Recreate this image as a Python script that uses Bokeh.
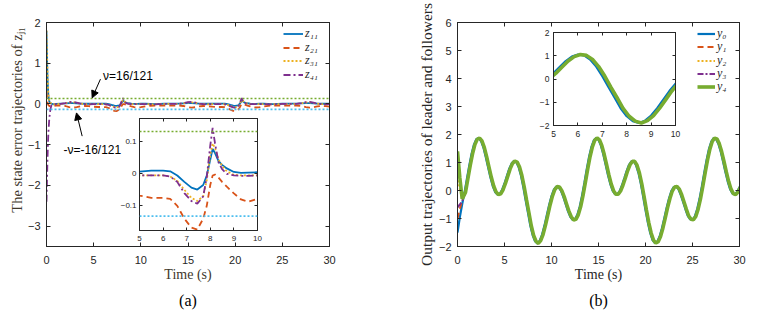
from bokeh.plotting import figure
from bokeh.models import (LinearAxis, Range1d, Legend, LegendItem, Arrow, NormalHead,
                          Label, FixedTicker, Span)
from bokeh.layouts import row
from bokeh.embed import file_html
from bokeh.resources import INLINE

# ---------------- data ----------------
NU = 16 / 121

t_z = [0, 0.05, 0.1, 0.15, 0.2, 0.3, 0.4, 0.5, 0.6, 0.8, 1.0,
       1.5, 2.0, 2.4, 2.8, 3.2, 3.6, 4.0, 4.5, 5.0, 5.5, 6.0,
       6.3, 6.6, 6.9, 7.2, 7.45, 7.7, 7.85, 8.0, 8.1, 8.2, 8.35, 8.5, 8.7, 9.0, 9.3, 9.6, 10.0,
       10.5, 11.0, 11.5, 12.0, 12.5, 13.0, 13.5, 14.0,
       14.5, 15.0, 15.4, 15.8, 16.2, 16.6, 17.1, 17.6, 18.1, 18.6,
       18.9, 19.2, 19.5, 19.8, 20.0, 20.3, 20.45, 20.6, 20.7, 20.8, 20.95, 21.1, 21.3, 21.6, 21.9, 22.2, 22.6,
       23.0, 23.5, 24.0, 24.5, 25.0, 25.5, 26.0, 26.5,
       27.0, 27.5, 27.9, 28.3, 28.7, 29.2, 29.6, 30.0]

z11 = [1.8, 1.2, 0.7, 0.4, 0.2, 0.06, 0.02, 0.01, 0.0, -0.01, 0.0,
       0.01, 0.015, 0.02, 0.02, 0.015, 0.01, 0.005, 0.005, 0.007, 0.01, 0.01,
       0.008, -0.005, -0.025, -0.043, -0.049, -0.035, -0.005, 0.045, 0.078, 0.065, 0.04, 0.028, 0.017, 0.006, 0.003, 0.004, 0.005,
       0.005, 0.0, -0.005, 0.0, 0.005, 0.01, 0.01, 0.01,
       0.015, 0.02, 0.02, 0.015, 0.01, 0.005, 0.005, 0.007, 0.01, 0.01,
       0.008, -0.005, -0.025, -0.043, -0.049, -0.035, -0.005, 0.045, 0.078, 0.065, 0.04, 0.028, 0.017, 0.006, 0.003, 0.004, 0.005,
       0.005, 0.0, -0.005, 0.0, 0.005, 0.01, 0.01, 0.01,
       0.015, 0.02, 0.02, 0.015, 0.01, 0.005, 0.005, 0.007]

z21 = [0.3, 0.15, 0.05, 0.0, -0.03, -0.05, -0.05, -0.05, -0.05, -0.045, -0.04,
       -0.04, -0.05, -0.08, -0.09, -0.08, -0.06, -0.05, -0.055, -0.068, -0.075, -0.075,
       -0.078, -0.1, -0.14, -0.168, -0.174, -0.14, -0.1, -0.034, -0.005, -0.002, -0.012, -0.025, -0.04, -0.061, -0.08, -0.087, -0.078,
       -0.06, -0.045, -0.04, -0.04, -0.04, -0.04, -0.04, -0.04,
       -0.05, -0.08, -0.09, -0.08, -0.06, -0.05, -0.055, -0.068, -0.075, -0.075,
       -0.078, -0.1, -0.14, -0.168, -0.174, -0.14, -0.1, -0.034, -0.005, -0.002, -0.012, -0.025, -0.04, -0.061, -0.08, -0.087, -0.078,
       -0.06, -0.045, -0.04, -0.04, -0.04, -0.04, -0.04, -0.04,
       -0.05, -0.08, -0.09, -0.08, -0.06, -0.05, -0.055, -0.068]

z31 = [1.8, 1.3, 0.8, 0.45, 0.25, 0.08, 0.03, 0.01, 0.0, -0.01, -0.005,
       0.0, 0.015, 0.035, 0.04, 0.025, 0.008, -0.005, -0.008, -0.005, -0.005, -0.005,
       -0.008, -0.022, -0.05, -0.075, -0.085, -0.07, -0.02, 0.06, 0.095, 0.08, 0.045, 0.025, 0.008, -0.003, -0.005, -0.005, -0.005,
       -0.005, -0.008, -0.008, -0.005, 0.0, 0.0, 0.0, 0.0,
       0.015, 0.035, 0.04, 0.025, 0.008, -0.005, -0.008, -0.005, -0.005, -0.005,
       -0.008, -0.022, -0.05, -0.075, -0.085, -0.07, -0.02, 0.06, 0.095, 0.08, 0.045, 0.025, 0.008, -0.003, -0.005, -0.005, -0.005,
       -0.005, -0.008, -0.008, -0.005, 0.0, 0.0, 0.0, 0.0,
       0.015, 0.035, 0.04, 0.025, 0.008, -0.005, -0.008, -0.005]

z41 = [-2.4, -1.9, -1.4, -1.0, -0.7, -0.35, -0.15, -0.05, -0.02, -0.01, -0.005,
       0.0, 0.02, 0.045, 0.05, 0.03, 0.01, -0.005, -0.01, -0.005, -0.005, -0.005,
       -0.008, -0.025, -0.06, -0.085, -0.093, -0.07, -0.01, 0.09, 0.144, 0.095, 0.035, 0.015, 0.0, -0.005, -0.006, -0.006, -0.005,
       -0.005, -0.01, -0.01, -0.005, 0.0, 0.0, 0.0, 0.0,
       0.02, 0.045, 0.05, 0.03, 0.01, -0.005, -0.01, -0.005, -0.005, -0.005,
       -0.008, -0.025, -0.06, -0.085, -0.093, -0.07, -0.01, 0.09, 0.144, 0.095, 0.035, 0.015, 0.0, -0.005, -0.006, -0.006, -0.005,
       -0.005, -0.01, -0.01, -0.005, 0.0, 0.0, 0.0, 0.0,
       0.02, 0.045, 0.05, 0.03, 0.01, -0.005, -0.01, -0.005]

# leader output y0, sampled every 0.25 s
t_y = [i * 0.25 for i in range(121)]
y0 = [-1.50, -0.95, -0.48, -0.065, 0.409, 0.884, 1.310, 1.638, 1.831, 1.875, 1.769, 1.541,
      1.208, 0.837, 0.472, 0.161, -0.051, -0.146, -0.115, 0.028, 0.251, 0.514, 0.772, 0.961,
      1.052, 1.016, 0.839, 0.534, 0.125, -0.346, -0.795, -1.260, -1.601, -1.812, -1.891, -1.793,
      -1.573, -1.255, -0.887, -0.517, -0.199, 0.029, 0.140, 0.123, -0.007, -0.220, -0.480, -0.737,
      -0.939, -1.051, -1.028, -0.870, -0.581, -0.183, 0.280, 0.764, 1.205, 1.561, 1.794, 1.877,
      1.811, 1.610, 1.302, 0.938, 0.565, 0.238, -0.006, -0.134, -0.135, -0.020, 0.187, 0.443,
      0.704, 0.919, 1.039, 1.039, 0.900, 0.629, 0.247, -0.215, -0.698, -1.147, -1.517, -1.772,
      -1.876, -1.828, -1.642, -1.346, -0.987, -0.613, -0.285, -0.020, 0.123, 0.142, 0.049, -0.153,
      -0.409, -0.671, -0.910, -1.028, -1.046, -0.927, -0.664, -0.298, 0.153, 0.634, 1.090, 1.479,
      1.747, 1.871, 1.843, 1.673, 1.391, 1.035, 0.663, 0.319, 0.045, -0.108, -0.145, -0.058, 0.125]

# followers: own values for t = 0, 0.25, 0.5, afterwards they track the leader with a small lag
y1_start = [-1.0, -0.65, -0.35]
y2_start = [0.5, 0.05, -0.30]
y3_start = [-0.6, -0.50, -0.38]
y4_start = [1.4, 0.45, -0.30]
FOLLOWER_LAG = 0.1

x_ticks = [0, 5, 10, 15, 20, 25, 30]
ya_ticks = [-3, -2, -1, 0, 1, 2]
yb_ticks = [-2, -1, 0, 1, 2, 3, 4, 5, 6]
inset_x_ticks = [5, 6, 7, 8, 9, 10]
ia_y_ticks = [-0.1, 0, 0.1]
ib_y_ticks = [-2, -1, 0, 1, 2]

z_labels = ["z₁₁", "z₂₁", "z₃₁", "z₄₁"]
y_labels = ["y₀", "y₁", "y₂", "y₃", "y₄"]

# ---------------- style / layout ----------------
BLUE, RED, YEL, PUR, GRN, CYN = "#0072BD", "#D95319", "#EDB120", "#7E2F8E", "#77AC30", "#4DBEEE"
AX = "#262626"
LBL_A = "#40382c"
SANS = "Liberation Sans"
SERIF = "Liberation Serif"
FRAME_H = 224
LEG_A_ROWS = [13, 26.5, 40, 53.5]          # legend row positions, px below frame top
LEG_B_ROWS = [13, 26.2, 39.5, 52.8, 66]


def box_axes(p, xticks, yticks, fsize, tick_len, sx, sy, y_over=None):
    xb = p.xaxis[0]
    yl = p.yaxis[0]
    xb.ticker = FixedTicker(ticks=xticks)
    yl.ticker = FixedTicker(ticks=yticks)
    top = LinearAxis(ticker=FixedTicker(ticks=xticks))
    right = LinearAxis(ticker=FixedTicker(ticks=yticks))
    p.add_layout(top, "above")
    p.add_layout(right, "right")
    for ax in (xb, yl, top, right):
        ax.major_tick_in = tick_len
        ax.major_tick_out = 0
        ax.minor_tick_line_color = None
        ax.axis_line_color = AX
        ax.major_tick_line_color = AX
        ax.major_label_text_font = SANS
        ax.major_label_text_color = AX
        ax.major_label_text_font_size = fsize
    top.major_label_overrides = {t: "" for t in xticks}
    right.major_label_overrides = {t: "" for t in yticks}
    for ax in (top, right):
        ax.major_label_text_font_size = "1px"
        ax.major_label_standoff = 0
    xb.major_label_standoff = sx
    yl.major_label_standoff = sy
    if y_over:
        yl.major_label_overrides = y_over
    p.xgrid.visible = False
    p.ygrid.visible = False
    p.outline_line_color = AX
    return xb, yl


def base_fig(fw, fh, xr, yr, bl, br, bt, bb, **kw):
    p = figure(frame_width=fw, frame_height=fh, x_range=Range1d(*xr), y_range=Range1d(*yr),
               min_border_left=bl, min_border_right=br, min_border_top=bt, min_border_bottom=bb,
               output_backend="svg", toolbar_location=None, **kw)
    return p


def draw_z(p):
    rs = []
    rs.append(p.line(t_z, z11, line_color=BLUE, line_width=1.8))
    rs.append(p.line(t_z, z21, line_color=RED, line_width=1.8, line_dash="6 4"))
    rs.append(p.line(t_z, z31, line_color=YEL, line_width=1.8, line_dash="2 2"))
    rs.append(p.line(t_z, z41, line_color=PUR, line_width=1.8, line_dash="7 3 2 3"))
    p.add_layout(Span(location=NU, dimension="width", line_color=GRN, line_width=1.6, line_dash="2 2"))
    p.add_layout(Span(location=-NU, dimension="width", line_color=CYN, line_width=1.6, line_dash="2 2"))
    return rs


def draw_y(p):
    tf = t_y[:3] + [t + FOLLOWER_LAG for t in t_y[3:]]
    rs = []
    rs.append(p.line(t_y, y0, line_color=BLUE, line_width=2.2))
    rs.append(p.line(tf, y1_start + y0[3:], line_color=RED, line_width=2, line_dash="6 4"))
    rs.append(p.line(tf, y2_start + y0[3:], line_color=YEL, line_width=2, line_dash="2 2"))
    rs.append(p.line(tf, y3_start + y0[3:], line_color=PUR, line_width=2, line_dash="6 2 2 2"))
    rs.append(p.line(tf, y4_start + y0[3:], line_color=GRN, line_width=3.6))
    return rs


def add_legend(p, rs, labels, x, rows, gw):
    # one single-row legend per entry, so that row positions are exact
    for r, lab, c in zip(rs, labels, rows):
        p.add_layout(Legend(items=[LegendItem(label=lab, renderers=[r])],
                            location=(x, FRAME_H - c - 6), padding=0, margin=0,
                            glyph_width=gw, glyph_height=11, label_height=11, label_standoff=2,
                            border_line_alpha=0, background_fill_alpha=0,
                            label_text_font=SERIF, label_text_font_style="italic",
                            label_text_font_size="12px", label_text_color=AX))


def style_labels(xax, yax, color, y_size, y_standoff):
    for ax in (xax, yax):
        ax.axis_label_text_font = SERIF
        ax.axis_label_text_font_style = "normal"
        ax.axis_label_text_color = color
    xax.axis_label_text_font_size = "14px"
    yax.axis_label_text_font_size = y_size
    xax.axis_label_standoff = 0
    yax.axis_label_standoff = y_standoff


def style_title(p):
    p.title.align = "center"
    p.title.text_font = SERIF
    p.title.text_font_style = "normal"
    p.title.text_font_size = "16px"
    p.title.text_color = "black"
    p.title.standoff = 11


# ---------------- panel (a) ----------------
pa = base_fig(283, FRAME_H, (0, 30), (-3.5, 2), 46, 16, 22, 63, title="(a)", title_location="below")
xb, yl = box_axes(pa, x_ticks, ya_ticks, "11px", 4, 9, 6)
xb.axis_label = "Time (s)"
yl.axis_label = "\u00a0" * 8 + "The state error trajectories of zⱼ₁"
style_labels(xb, yl, LBL_A, "14.5px", 0)
style_title(pa)
rz = draw_z(pa)
add_legend(pa, rz, z_labels, 237, LEG_A_ROWS, 20)

ann_font = dict(text_font=SANS, text_font_size="12px", text_color="black", text_baseline="middle")
pa.add_layout(Label(x=6.0, y=0.69, text="ν=16/121", **ann_font))
pa.add_layout(Label(x=1.8, y=-1.14, text="-ν=-16/121", **ann_font))
pa.add_layout(Arrow(end=NormalHead(size=7, fill_color="black", line_color="black"),
                    x_start=5.72, y_start=0.61, x_end=4.84, y_end=0.15,
                    line_color="black", line_width=1))
pa.add_layout(Arrow(end=NormalHead(size=7, fill_color="black", line_color="black"),
                    x_start=3.78, y_start=-0.79, x_end=3.18, y_end=-0.22,
                    line_color="black", line_width=1))

# inset of (a)
ia = base_fig(118, 112, (5, 10), (-0.177, 0.173), 30, 18, 18, 20)
box_axes(ia, inset_x_ticks, ia_y_ticks, "8px", 3, 5, 3, y_over={0: "0"})
ia.border_fill_alpha = 0
ia.background_fill_color = "white"
draw_z(ia)
ia.margin = (96, 0, 0, -236)

# ---------------- panel (b) ----------------
pb = base_fig(282, FRAME_H, (0, 30), (-2, 6), 57, 16, 22, 63, title="(b)", title_location="below")
xb2, yl2 = box_axes(pb, x_ticks, yb_ticks, "11px", 4, 9, 6)
xb2.axis_label = "Time (s)"
yl2.axis_label = "Output trajectories of leader and followers"
style_labels(xb2, yl2, AX, "15.5px", 1)
style_title(pb)
ry = draw_y(pb)
add_legend(pb, ry, y_labels, 240, LEG_B_ROWS, 18)
pb.margin = (0, 0, 0, 125)

# inset of (b)
ib = base_fig(122, 93, (5, 10), (-2, 2), 25, 18, 18, 20)
box_axes(ib, inset_x_ticks, ib_y_ticks, "8.5px", 3, 5, 4)
ib.border_fill_alpha = 0
ib.background_fill_color = "white"
draw_y(ib)
ib.margin = (10, 0, 0, -227)

layout = row(pa, ia, pb, ib)
open("out.html", "w").write(file_html(layout, INLINE))
